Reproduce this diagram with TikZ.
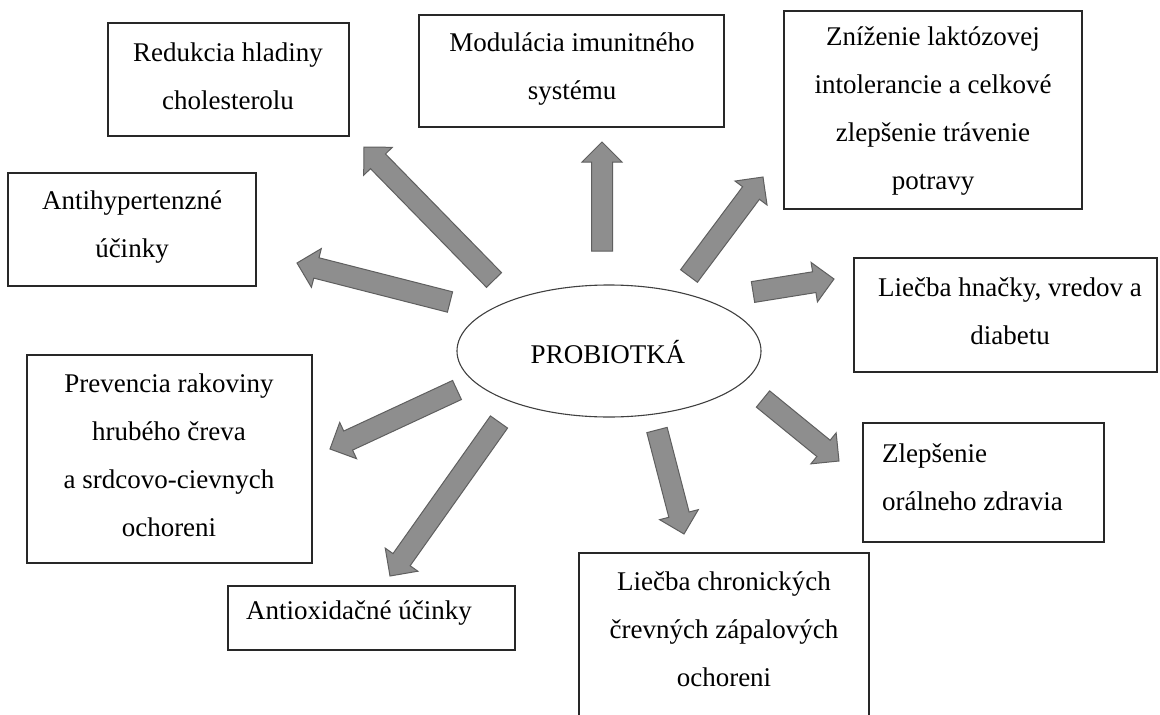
\documentclass[tikz,border=0pt]{standalone}
\usepackage{fontspec}
\setmainfont{Liberation Serif}
\usetikzlibrary{calc}
\definecolor{arrowgray}{RGB}{142,142,142}
\definecolor{arrowedge}{RGB}{95,95,95}
\definecolor{boxedge}{RGB}{40,40,40}
\tikzset{
  boxline/.style={draw=boxedge, line width=1.6pt},
  lbl/.style={font=\fontsize{27}{48}\selectfont, inner sep=0pt, align=center},
  lblleft/.style={font=\fontsize{27}{48}\selectfont, inner sep=0pt, align=left, anchor=west},
  blockarrow/.style={fill=arrowgray, draw=arrowedge, line width=1pt, line join=miter},
}
\newcommand{\blockarr}[2]{%
  \coordinate (hb) at ($(#2)!20pt!(#1)$);
  \draw[blockarrow] ($(#1)!10.5pt!90:(#2)$) -- ($(hb)!10.5pt!90:(#2)$) -- ($(hb)!20pt!90:(#2)$) -- (#2)
    -- ($(hb)!20pt!-90:(#2)$) -- ($(hb)!10.5pt!-90:(#2)$) -- ($(#1)!10.5pt!-90:(#2)$) -- cycle;}
\begin{document}
\begin{tikzpicture}[x=1pt,y=-1pt]
\useasboundingbox[fill=white] (0,0) rectangle (1160,715);

% boxes
\draw[boxline] (108,23) rectangle (349,136);
\node[lbl] (redukcia) at (228,76) {Redukcia hladiny\\cholesterolu};

\draw[boxline] (419,15) rectangle (724,127);
\node[lbl] (modulacia) at (572,69) {Modulácia imunitného\\systému};

\draw[boxline] (784,11) rectangle (1082,209);
\node[lbl] (znizenie) at (933,111) {Zníženie laktózovej\\intolerancie a celkové\\zlepšenie trávenie\\potravy};

\draw[boxline] (8,173) rectangle (256,286);
\node[lbl] (antihyp) at (132,227) {Antihypertenzné\\účinky};

\draw[boxline] (854,258) rectangle (1157,372);
\node[lbl] (hnacky) at (1010,311) {Liečba hnačky, vredov a\\diabetu};

\draw[boxline] (27,355) rectangle (312,563);
\node[lbl] (prevencia) at (169,455) {Prevencia rakoviny\\hrubého čreva\\a srdcovo-cievnych\\ochoreni};

\draw[boxline] (228,586) rectangle (515,650);
\node[lblleft] (antiox) at (246,613) {Antioxidačné účinky};

\draw[boxline] (579,720) -- (579,553) -- (869,553) -- (869,720);
\node[lbl] (chronic) at (724,629) {Liečba chronických\\črevných zápalových\\ochoreni};

\draw[boxline] (863,423) rectangle (1104,542);
\node[lblleft] (oral) at (882,477) {Zlepšenie\\orálneho zdravia};

% center ellipse
\draw[draw=black!75, line width=1.1pt] (609,351) ellipse [x radius=152, y radius=66];
\node[lbl] (probio) at (608,352) {PROBIOTKÁ};

% arrow end points
\coordinate (t1) at (494,280); \coordinate (p1) at (364,147);
\coordinate (t2) at (450,302); \coordinate (p2) at (297,263);
\coordinate (t3) at (602,251); \coordinate (p3) at (602,142);
\coordinate (t4) at (689,276); \coordinate (p4) at (763,177);
\coordinate (t5) at (753,292); \coordinate (p5) at (834,279);
\coordinate (t6) at (763,399); \coordinate (p6) at (839,461);
\coordinate (t7) at (657,430); \coordinate (p7) at (684,534);
\coordinate (t8) at (499,422); \coordinate (p8) at (390,576);
\coordinate (t9) at (457,390); \coordinate (p9) at (330,449);

\blockarr{t1}{p1}
\blockarr{t2}{p2}
\blockarr{t3}{p3}
\blockarr{t4}{p4}
\blockarr{t5}{p5}
\blockarr{t6}{p6}
\blockarr{t7}{p7}
\blockarr{t8}{p8}
\blockarr{t9}{p9}
\end{tikzpicture}
\end{document}
